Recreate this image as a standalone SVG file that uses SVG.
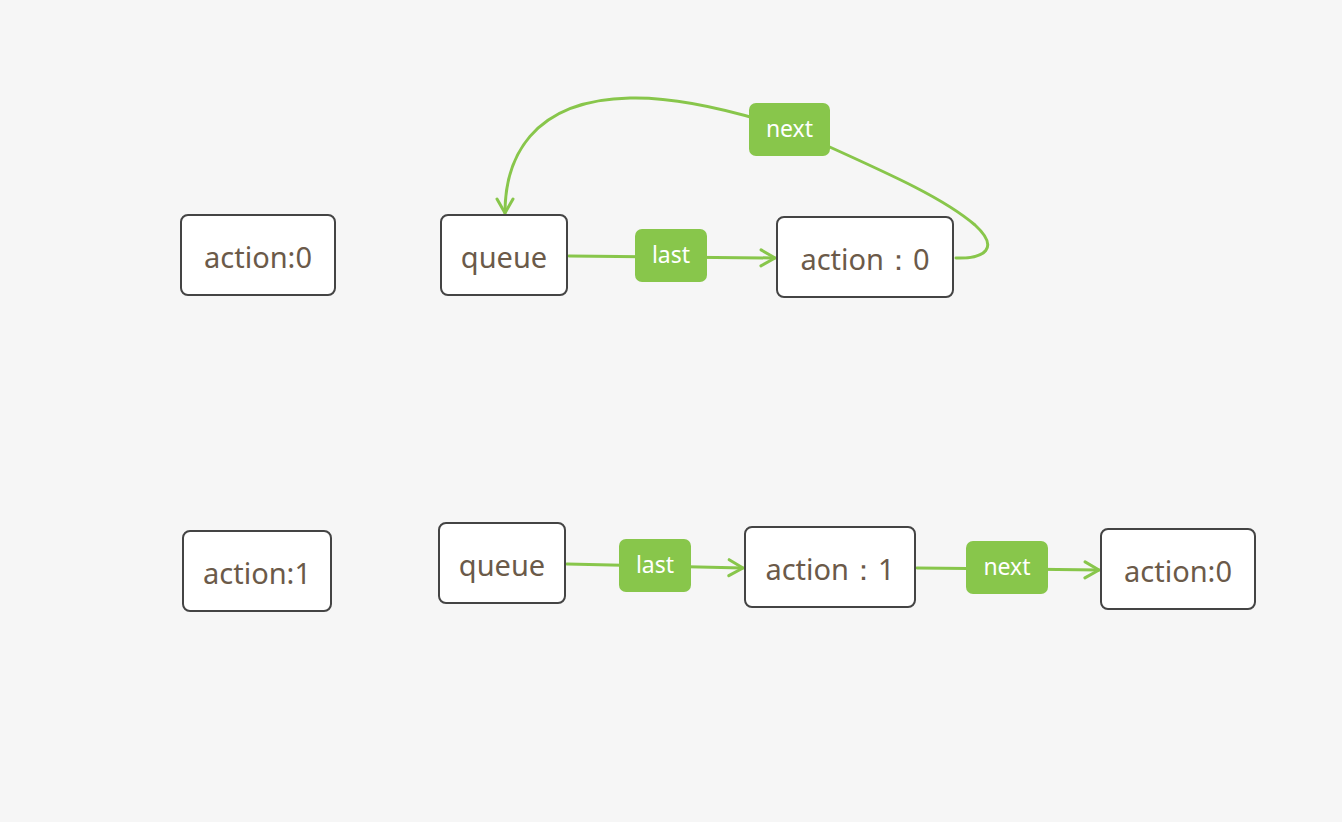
<svg xmlns="http://www.w3.org/2000/svg" width="1342" height="822" viewBox="0 0 1342 822">
<style>
.node rect{fill:#ffffff;stroke:#444444;stroke-width:2}
.node text{font-family:"Noto Sans","Liberation Sans",sans-serif;font-size:29px;fill:#6b5a49;text-anchor:middle}
.edge{fill:none;stroke:#88c64b;stroke-width:3;stroke-linecap:round}
.lbl rect{fill:#88c64b}
.lbl text{font-family:"Noto Sans","Liberation Sans",sans-serif;font-size:23px;fill:#ffffff;text-anchor:middle}
</style>
<defs>
<marker id="arr" viewBox="0 0 20 20" refX="18" refY="10" markerWidth="20" markerHeight="20" markerUnits="userSpaceOnUse" orient="auto">
<path d="M4 2 L18 10 L4 18" fill="none" stroke="#88c64b" stroke-width="3" stroke-linecap="round" stroke-linejoin="round"/>
</marker>
</defs>
<rect width="1342" height="822" fill="#f6f6f6"/>
<g id="connectors">
<path class="edge" d="M569 256 L775 258" marker-end="url(#arr)"/>
<path class="edge" d="M956 258 C985 259 1000 248 975 225 C940 195 880 170 790 129 C720 106 670 97 630 98 C530 100 505 160 505 213" marker-end="url(#arr)"/>
<path class="edge" d="M567 564 L743 568" marker-end="url(#arr)"/>
<path class="edge" d="M917 568 L1099 570" marker-end="url(#arr)"/>
</g>
<g id="labels">
<g class="lbl" id="lbl-last-top"><rect x="635" y="229" width="72" height="53" rx="7"/><text x="671" y="263">last</text></g>
<g class="lbl" id="lbl-next-top"><rect x="749" y="103" width="81" height="53" rx="7"/><text x="789.5" y="137">next</text></g>
<g class="lbl" id="lbl-last-bot"><rect x="619" y="539" width="72" height="53" rx="7"/><text x="655" y="573">last</text></g>
<g class="lbl" id="lbl-next-bot"><rect x="966" y="541" width="82" height="53" rx="7"/><text x="1007" y="575">next</text></g>
</g>
<g class="node" id="n-action0-left"><rect x="181" y="215" width="154" height="80" rx="7"/><text x="258" y="268">action:0</text></g>
<g class="node" id="n-queue-top"><rect x="441" y="215" width="126" height="80" rx="7"/><text x="504" y="268">queue</text></g>
<g class="node" id="n-action0-top"><rect x="777" y="217" width="176" height="80" rx="7"/><text x="865" y="270">action：0</text></g>
<g class="node" id="n-action1-left"><rect x="183" y="531" width="148" height="80" rx="7"/><text x="257" y="584">action:1</text></g>
<g class="node" id="n-queue-bot"><rect x="439" y="523" width="126" height="80" rx="7"/><text x="502" y="576">queue</text></g>
<g class="node" id="n-action1-bot"><rect x="745" y="527" width="170" height="80" rx="7"/><text x="830" y="580">action：1</text></g>
<g class="node" id="n-action0-bot"><rect x="1101" y="529" width="154" height="80" rx="7"/><text x="1178" y="582">action:0</text></g>
</svg>
